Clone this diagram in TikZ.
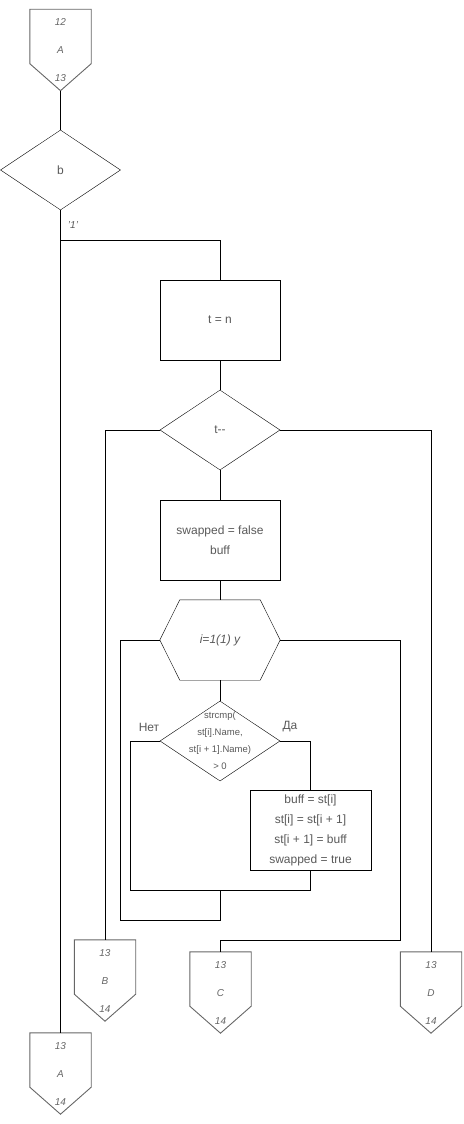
\documentclass[tikz,border=0pt]{standalone}
\usepackage{fontspec}
\setmainfont{Liberation Sans}
\usetikzlibrary{shapes.geometric}

\tikzset{
  proc/.style={draw, rectangle, minimum width=120pt, minimum height=80pt, inner sep=0pt,
    align=center, text=black!65, font=\fontsize{12}{20}\selectfont},
  cond/.style={draw, diamond, minimum width=120pt, minimum height=80pt, inner sep=0pt,
    text=black!65, font=\fontsize{12}{13}\selectfont},
  loophex/.style={rectangle, minimum width=120pt, minimum height=80pt, inner sep=0pt,
    text=black!65, font=\itshape\fontsize{12}{13}\selectfont,
    append after command={\pgfextra{\draw (\tikzlastnode.west)
      -- ([xshift=20pt]\tikzlastnode.north west) -- ([xshift=-20pt]\tikzlastnode.north east)
      -- (\tikzlastnode.east) -- ([xshift=-20pt]\tikzlastnode.south east)
      -- ([xshift=20pt]\tikzlastnode.south west) -- cycle;}}},
  offpage/.style={rectangle, minimum width=61pt, minimum height=81pt, inner sep=0pt,
    align=center, text=black!60, font=\itshape\fontsize{10}{28}\selectfont,
    append after command={\pgfextra{\draw[black!60, line width=0.9pt]
      (\tikzlastnode.north west) -- (\tikzlastnode.north east)
      -- ([yshift=27pt]\tikzlastnode.south east) -- (\tikzlastnode.south)
      -- ([yshift=27pt]\tikzlastnode.south west) -- cycle;}}},
  lbl/.style={text=black!65, font=\fontsize{12}{13}\selectfont}
}

\begin{document}
\begin{tikzpicture}[x=1pt, y=-1pt]
    \useasboundingbox (0,0) rectangle (463,1124);
    \node[offpage] (cA1) at (60.5,50) {12\\A\\13};
    \node[cond] (b) at (60.5,170) {b};
    \node[proc] (tn) at (220,320) {t = n};
    \node[cond] (tdec) at (220,430) {t-{}-};
    \node[proc] (swp) at (220,540) {swapped = false\\buff};
    \node[loophex] (loop) at (220,640) {i=1(1) y};
    \node[cond, label={[align=center, text=black!65, font=\fontsize{9.5}{17}\selectfont]center:{strcmp(\\st[i].Name,\\st[i + 1].Name)\\> 0}}] (cmp) at (220,741) {};
    \node[proc, minimum width=121pt] (swap) at (310.5,830) {buff = st[i]\\st[i] = st[i + 1]\\st[i + 1] = buff\\swapped = true};
    \node[offpage] (cB) at (105,980.5) {13\\B\\14};
    \node[offpage] (cC) at (220.5,992.5) {13\\C\\14};
    \node[offpage] (cD) at (431,992.5) {13\\D\\14};
    \node[offpage] (cA2) at (60.5,1073.5) {13\\A\\14};
    \node[lbl, font=\itshape\fontsize{10}{12}\selectfont] (one) at (73,225) {'1'};
    \node[lbl] (no) at (149,727) {Нет};
    \node[lbl] (yes) at (290,727) {Да};
    \coordinate (j1) at (60.5,240);
    \coordinate (j2) at (220,890);
    \draw (cA1.south) -- (b.north);
    \draw (b.south) -- (cA2.north);
    \draw (j1) -| (tn.north);
    \draw (tn) -- (tdec);
    \draw (tdec.west) -| (cB.north);
    \draw (tdec.east) -| (cD.north);
    \draw (tdec) -- (swp);
    \draw (swp) -- (loop);
    \draw (loop) -- (cmp);
    \draw (cmp.east) -| (swap.north);
    \draw (cmp.west) -- ++(-30,0) |- (swap.south |- j2) -- (swap.south);
    \draw (j2) -- ++(0,30) -| ([xshift=-40pt]loop.west) -- (loop.west);
    \draw (loop.east) -- ++(120,0) -- ++(0,300) -| (cC.north);
\end{tikzpicture}
\end{document}
